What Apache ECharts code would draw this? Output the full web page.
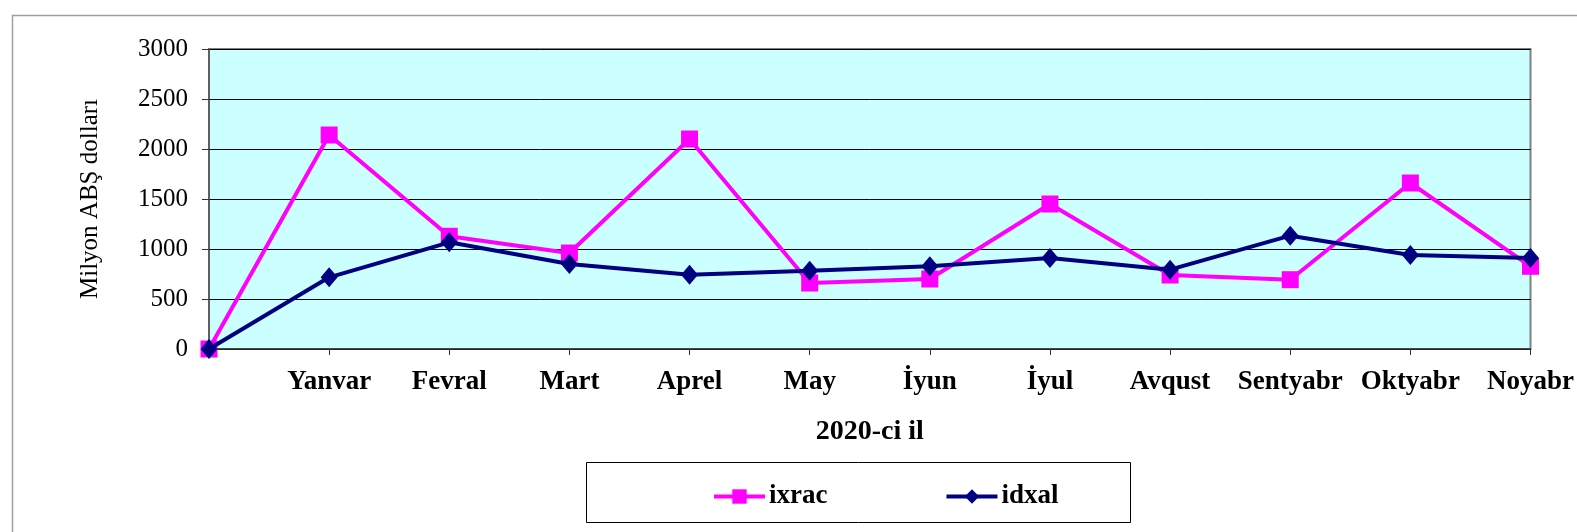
<!DOCTYPE html>
<html>
<head>
<meta charset="utf-8">
<script src="https://cdn.jsdelivr.net/npm/echarts@6/dist/echarts.min.js"></script>
<style>html,body{margin:0;padding:0;background:#fff;}#c{width:1577px;height:532px;}</style>
</head>
<body>
<div id="c"></div>
<script>
const categories = ['', 'Yanvar', 'Fevral', 'Mart', 'Aprel', 'May', 'İyun', 'İyul', 'Avqust', 'Sentyabr', 'Oktyabr', 'Noyabr'];
const ixrac = [0, 2140, 1127, 960, 2100, 660, 700, 1450, 740, 693, 1660, 827];
const idxal = [0, 717, 1067, 850, 743, 783, 827, 910, 793, 1133, 940, 910];
const yTicks = [0, 500, 1000, 1500, 2000, 2500, 3000];

const serif = '"Liberation Serif", "Times New Roman", serif';
const chart = echarts.init(document.getElementById('c'), null, {renderer: 'canvas'});
chart.setOption({
  animation: false,
  backgroundColor: '#fff',
  graphic: [
    {type: 'rect', left: 10, top: 13, shape: {width: 1600, height: 600},
     style: {fill: 'none', stroke: '#a0a0a0', lineWidth: 1.5}, silent: true, z: -10},
    {type: 'rect', left: 586, top: 462, shape: {width: 544, height: 60},
     style: {fill: '#fff', stroke: '#000', lineWidth: 1}, silent: true, z: -5}
  ],
  grid: {left: 209, right: 45, top: 49, bottom: 183, show: true,
         backgroundColor: '#CCFFFF', borderColor: '#808080', borderWidth: 2},
  legend: {
    left: 707, top: 478, itemWidth: 51, itemHeight: 18, itemGap: 117,
    lineStyle: {width: 4},
    textStyle: {fontFamily: serif, fontWeight: 'bold', fontSize: 27, color: '#000', padding: [0, 0, 0, -1]},
    data: ['ixrac', 'idxal']
  },
  xAxis: {
    type: 'category', data: categories, boundaryGap: false,
    name: '2020-ci il', nameLocation: 'middle', nameGap: 69,
    nameTextStyle: {fontFamily: serif, fontWeight: 'bold', fontSize: 28, color: '#000'},
    axisLine: {lineStyle: {color: '#333', width: 1.5}},
    axisTick: {show: true, interval: 0, length: 6, lineStyle: {color: '#333'}},
    axisLabel: {interval: 0, margin: 20, fontFamily: serif, fontWeight: 'bold', fontSize: 27, color: '#000'},
    splitLine: {show: false}
  },
  yAxis: {
    type: 'value', min: 0, max: 3000, interval: 500,
    name: 'Milyon ABŞ dolları', nameLocation: 'middle', nameGap: 106, nameRotate: 90,
    nameTextStyle: {fontFamily: serif, fontSize: 25, color: '#000'},
    axisLine: {show: true, lineStyle: {color: '#555', width: 1.5}},
    axisTick: {show: true, length: 7, lineStyle: {color: '#333'}},
    axisLabel: {margin: 21, fontFamily: serif, fontSize: 25, color: '#000',
      formatter: v => yTicks.includes(v) ? String(v) : ''},
    splitLine: {show: true, lineStyle: {color: '#000', width: 1}}
  },
  series: [
    {name: 'ixrac', type: 'line', data: ixrac, symbol: 'rect', symbolSize: 17,
     lineStyle: {color: '#FF00FF', width: 4}, itemStyle: {color: '#FF00FF'}, z: 2},
    {name: 'idxal', type: 'line', data: idxal, symbol: 'diamond', symbolSize: [17, 20],
     lineStyle: {color: '#000080', width: 4}, itemStyle: {color: '#000080'}, z: 3}
  ]
});
</script>
</body>
</html>
